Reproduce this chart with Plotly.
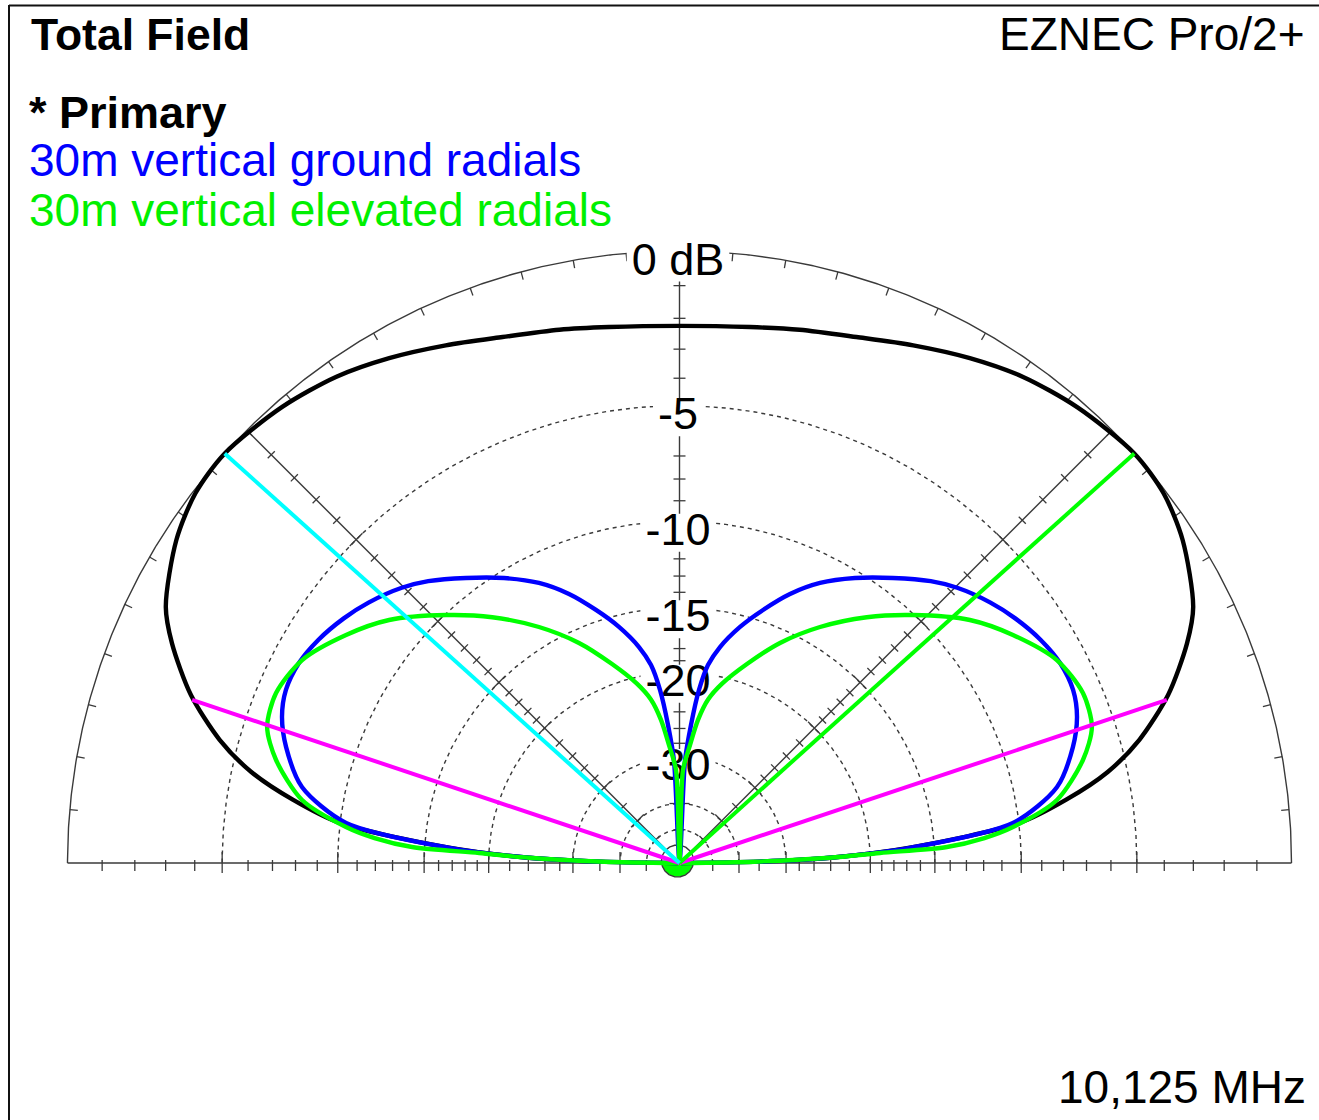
import numpy as np
import plotly.graph_objects as go

# ---------------- data ----------------
# elevation angle (deg above horizon, right half; pattern is symmetric) and field in dB
PRIMARY_ELEV = [0, 1, 2, 3.9, 6.7, 9.3, 12, 15, 19, 23.4, 26.5, 32.7, 37.4, 42, 48.9, 54.8,
                60.1, 65.7, 71.4, 77.3, 82.5, 90]
PRIMARY_DB = [-99, -35, -24, -16.5, -10.0, -7.65, -5.75, -4.31, -2.9, -1.74, -1.1, -0.40, -0.08,
              0.0, -0.20, -0.48, -0.85, -1.28, -1.68, -1.94, -2.13, -2.24]

GROUND_ELEV = [0, 1, 2, 3.8, 6.84, 11.38, 16.42, 20.17, 23.73, 27.73, 31.74, 36.08, 39.94,
               44.74, 48.28, 53.16, 58.38, 63.35, 67.67, 71.73, 75.62, 79.38, 81.81, 83.57,
               85.24, 86.9, 90]
GROUND_DB = [-99, -34.9, -24.1, -16.65, -10.30, -7.95, -6.87, -6.32, -6.06, -6.06, -6.28, -6.65,
             -7.06, -7.69, -8.29, -9.29, -10.36, -11.49, -12.77, -14.27, -15.8, -17.58, -19.2,
             -21.57, -25.5, -30.6, -99]

ELEVATED_ELEV = [0, 1, 2, 2.86, 3.42, 4.68, 6.16, 9.48, 14.32, 18.25, 22.84, 28.27, 34.36,
                 39.92, 46.72, 52.7, 59.23, 65.45, 71.27, 76.64, 80.08, 82.63, 84.92, 87.84, 90]
ELEVATED_DB = [-99, -36, -24.1, -19.14, -14.18, -11.9, -10.32, -8.06, -6.61, -5.89, -5.75, -6.12,
               -7.13, -8.24, -10.06, -11.73, -13.75, -15.93, -18.35, -20.6, -22.4, -24.8, -28.2,
               -32.3, -99]

# cursor (max gain) lines and -3 dB beamwidth lines of the primary pattern
MAX_ELEV = [42.0, 138.0]
MAX_DB = [0.0, 0.0]
BW_ELEV = [18.5, 161.5]
BW_DB = [-3.0, -3.0]

# scale
RING_DB = [-5, -10, -15, -20, -30, -40, -50]
LABEL_DB = [0, -5, -10, -15, -20, -30]
LABEL_TEXT = ["0 dB", "-5", "-10", "-15", "-20", "-30"]
MINOR_TICK_DB = [-1, -2, -3, -4, -6, -7, -8, -9, -11, -12, -13, -14, -16, -17, -18, -19,
                 -22, -24, -26, -28, -35, -50]
MAJOR_TICK_DB = [-5, -10, -15, -20, -30, -40]
OUTER_TICK_DEG = list(range(5, 180, 5))

TITLE = "Total Field"
PROGRAM = "EZNEC Pro/2+"
FREQ = "10,125 MHz"
SERIES_NAMES = ["* Primary", "30m vertical ground radials", "30m vertical elevated radials"]

# ---------------- layout constants ----------------
W, H = 1319, 1120
CX, CY = 679.5, 863.0          # pixel position of the pattern origin
R = 612.0                       # outer (0 dB) radius in pixels
FONT = "Liberation Sans, Arial, sans-serif"
GRID = "#3a3a3a"
C_BLACK, C_BLUE, C_GREEN = "#000000", "#0000FF", "#00FF00"
C_CYAN, C_MAG = "#00FFFF", "#FF00FF"


def arrl(db):
    """ARRL log scale: radius shrinks by 0.89 every 2 dB."""
    return R * 0.89 ** (-np.asarray(db, float) / 2.0)


def pol(elev, db):
    r = arrl(db)
    t = np.radians(np.asarray(elev, float))
    return r * np.cos(t), r * np.sin(t)


def full(elev, db):
    e = list(elev) + [180 - a for a in reversed(elev[:-1])]
    d = list(db) + list(reversed(db[:-1]))
    return pol(e, d)


def lines(xs, ys, color, width, dash=None, shape="linear", smoothing=1.0):
    ln = dict(color=color, width=width, shape=shape)
    if shape == "spline":
        ln["smoothing"] = smoothing
    if dash:
        ln["dash"] = dash
    return go.Scatter(x=xs, y=ys, mode="lines", line=ln, hoverinfo="skip", showlegend=False)


traces = []

# outer 0 dB circle
th = np.radians(np.linspace(0, 180, 721))
traces.append(lines(R * np.cos(th), R * np.sin(th), GRID, 1.4))

# outer degree ticks (pointing inward)
tx, ty = [], []
for a in OUTER_TICK_DEG:
    t = np.radians(a)
    tx += [R * np.cos(t), (R - 8) * np.cos(t), None]
    ty += [R * np.sin(t), (R - 8) * np.sin(t), None]
traces.append(lines(tx, ty, GRID, 1.3))

# dashed dB rings
rx, ry = [], []
for db in RING_DB:
    r = float(arrl(db))
    rx += list(r * np.cos(th)) + [None]
    ry += list(r * np.sin(th)) + [None]
traces.append(lines(rx, ry, GRID, 1.4, dash="4px,4px"))

# axes: baseline, vertical, diagonals
ax_x = [-R, R, None, 0, 0, None]
ax_y = [0, 0, None, 0, R, None]
for a in (45, 135):
    t = np.radians(a)
    ax_x += [0, R * np.cos(t), None]
    ax_y += [0, R * np.sin(t), None]
traces.append(lines(ax_x, ax_y, GRID, 1.4))

# ticks along axes
kx, ky = [], []
for dbs, major in ((MINOR_TICK_DB, False), (MAJOR_TICK_DB, True)):
    for db in dbs:
        r = float(arrl(db))
        up, dn = (11, 10) if major else (3, 8)
        for s in (-1, 1):
            kx += [s * r, s * r, None]
            ky += [up, -dn, None]
        hw = 10 if major else 6
        kx += [-hw, hw, None]
        ky += [r, r, None]
        pw = 9 if major else 5
        for a in (45, 135):
            t = np.radians(a)
            px, py = r * np.cos(t), r * np.sin(t)
            nx, ny = -np.sin(t), np.cos(t)
            kx += [px - pw * nx, px + pw * nx, None]
            ky += [py - pw * ny, py + pw * ny, None]
traces.append(lines(kx, ky, GRID, 1.3))

# white boxes behind scale labels
LFS = 45
CW = {"-": 0.333, " ": 0.278, "d": 0.556, "B": 0.667}
bx, by = [], []
lab_x, lab_y = [], []
for db, txt in zip(LABEL_DB, LABEL_TEXT):
    w = sum(CW.get(c, 0.556) for c in txt) * LFS + 10
    yc = float(arrl(db)) - 12.5
    xc = -1.5
    lab_x.append(xc)
    lab_y.append(yc)
    bx += [xc - w / 2, xc + w / 2, xc + w / 2, xc - w / 2, xc - w / 2, None]
    by += [yc - 18, yc - 18, yc + 20, yc + 20, yc - 18, None]
traces.append(go.Scatter(x=bx, y=by, mode="lines", fill="toself", fillcolor="white",
                         line=dict(width=0, color="white"), hoverinfo="skip", showlegend=False))
traces.append(go.Scatter(x=lab_x, y=lab_y, mode="text", text=LABEL_TEXT,
                         textposition="middle center",
                         textfont=dict(family=FONT, size=LFS, color="#000000"),
                         hoverinfo="skip", showlegend=False))

# small origin marker
ct = np.radians(np.linspace(180, 360, 91))
traces.append(go.Scatter(x=list(16 * np.cos(ct) - 2), y=list(16 * np.sin(ct) + 2), mode="lines",
                         fill="toself", fillcolor=C_GREEN, line=dict(width=0, color=C_GREEN),
                         hoverinfo="skip", showlegend=False))
cf = np.radians(np.linspace(0, 360, 181))
traces.append(lines(16 * np.cos(cf) - 2, 16 * np.sin(cf) + 2, GRID, 1.4))

# patterns
for (el, db, col) in ((PRIMARY_ELEV, PRIMARY_DB, C_BLACK),
                      (GROUND_ELEV, GROUND_DB, C_BLUE),
                      (ELEVATED_ELEV, ELEVATED_DB, C_GREEN)):
    x, y = full(el, db)
    traces.append(lines(x, y, col, 4.4, shape="spline", smoothing=0.8))

# beamwidth and max-gain lines
for e, d in zip(BW_ELEV, BW_DB):
    x, y = pol([e], [d])
    traces.append(lines([0, x[0]], [0, y[0]], C_MAG, 4))
for e, d, col in zip(MAX_ELEV, MAX_DB, (C_GREEN, C_CYAN)):
    x, y = pol([e], [d])
    traces.append(lines([0, x[0]], [0, y[0]], col, 4))

fig = go.Figure(traces)


def pxx(x):
    return x / W


def pyy(y):
    return 1 - y / H


annos = []


def note(text, x, base, anchor, size, color="#000000", bold=False):
    t = f"<b>{text}</b>" if bold else text
    annos.append(dict(text=t, x=pxx(x), y=pyy(base - 0.39 * size), xref="paper", yref="paper",
                      xanchor=anchor, yanchor="middle", showarrow=False,
                      font=dict(family=FONT, size=size, color=color)))


note(TITLE, 29, 52, "left", 44.5, bold=True)
note(PROGRAM, 1307, 52, "right", 46)
note(SERIES_NAMES[0], 27, 130, "left", 45, bold=True)
note(SERIES_NAMES[1], 27, 178, "left", 46, color=C_BLUE)
note(SERIES_NAMES[2], 27, 228, "left", 46, color="#00F000")
note(FREQ, 1308, 1105, "right", 46)

fig.update_layout(
    width=W, height=H, margin=dict(l=0, r=0, t=0, b=0),
    paper_bgcolor="white", plot_bgcolor="white", showlegend=False,
    xaxis=dict(range=[-CX, W - CX], visible=False, fixedrange=True),
    yaxis=dict(range=[-(H - CY), CY], visible=False, fixedrange=True),
    annotations=annos,
    shapes=[
        dict(type="line", xref="paper", yref="paper", x0=pxx(9), x1=pxx(9), y0=pyy(5), y1=0,
             line=dict(color="#111111", width=2)),
        dict(type="line", xref="paper", yref="paper", x0=pxx(9), x1=1, y0=pyy(5.5), y1=pyy(5.5),
             line=dict(color="#111111", width=2)),
    ],
)

fig.write_html("out.html", config={"displayModeBar": False},
               post_script="document.body.style.margin='0px';")
